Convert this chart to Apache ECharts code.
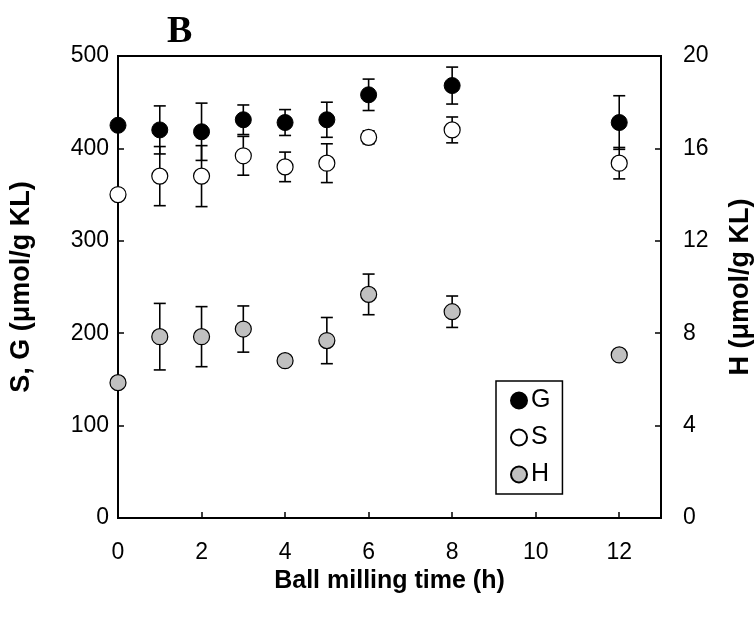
<!DOCTYPE html>
<html>
<head>
<meta charset="utf-8">
<script src="https://cdn.jsdelivr.net/npm/echarts@6/dist/echarts.min.js"></script>
<style>
  html, body { margin: 0; padding: 0; background: #fff; overflow: hidden; }
  #chart { width: 755px; height: 618px; }
</style>
</head>
<body>
<div id="chart"></div>
<script>
// Ball milling time (h)
const hours = [0, 1, 2, 3, 4, 5, 6, 8, 12];

// G and S units, µmol/g KL (left axis)
const gValues = [425, 420, 418, 431, 428, 431, 458, 468, 428];
const gErrors = [0, 26, 31, 16, 14, 19, 17, 20, 29];
const sValues = [350, 370, 370, 392, 380, 384, 412, 420, 384];
const sErrors = [0, 32, 33, 21, 16, 21, 7, 14, 17];

// H units, µmol/g KL (right axis)
const hValues = [5.86, 7.85, 7.85, 8.18, 6.81, 7.68, 9.68, 8.93, 7.06];
const hErrors = [0, 1.44, 1.3, 1.0, 0, 1.0, 0.88, 0.68, 0];

const xTicks = [0, 2, 4, 6, 8, 10, 12];

const FONT = 'Liberation Sans, Arial, sans-serif';

function points(values) {
  return hours.map((h, i) => [h, values[i]]);
}
function errorData(values, errors) {
  return hours.map((h, i) => [h, values[i], errors[i]]);
}

// vertical error bar with caps, drawn through the axis scales
function renderError(params, api) {
  const err = api.value(2);
  if (!err) return null;
  const x = api.value(0), y = api.value(1);
  const hi = api.coord([x, y + err]);
  const lo = api.coord([x, y - err]);
  const half = 6;
  const style = { stroke: '#000', lineWidth: 1.6 };
  return {
    type: 'group',
    children: [
      { type: 'line', shape: { x1: hi[0], y1: hi[1], x2: lo[0], y2: lo[1] }, style },
      { type: 'line', shape: { x1: hi[0] - half, y1: hi[1], x2: hi[0] + half, y2: hi[1] }, style },
      { type: 'line', shape: { x1: lo[0] - half, y1: lo[1], x2: lo[0] + half, y2: lo[1] }, style }
    ]
  };
}

const axisLineStyle = { show: true, lineStyle: { color: '#000', width: 2 } };
const tickStyle = { show: true, inside: true, length: 6, lineStyle: { color: '#000', width: 1.5 } };
const labelFont = { color: '#000', fontFamily: FONT, fontSize: 23 };
const xNameFont = { color: '#000', fontFamily: FONT, fontSize: 25, fontWeight: 'bold' };
const yNameFont = { color: '#000', fontFamily: FONT, fontSize: 27, fontWeight: 'bold' };

const chart = echarts.init(document.getElementById('chart'), null, { renderer: 'canvas', width: 755, height: 618 });

chart.setOption({
  animation: false,
  backgroundColor: '#fff',
  title: {
    text: 'B',
    left: 162,
    top: 8,
    textStyle: { fontFamily: 'Liberation Serif, Times New Roman, serif', fontWeight: 'bold', fontSize: 38, color: '#000' }
  },
  grid: {
    left: 118, top: 56, width: 543, height: 462,
    containLabel: false,
    outerBoundsMode: 'none',
    show: true, borderColor: '#000', borderWidth: 2, backgroundColor: 'transparent'
  },
  legend: {
    data: ['G', 'S', 'H'],
    orient: 'vertical',
    left: 496,
    top: 381,
    padding: [7, 12, 7, 14],
    itemGap: 12,
    itemWidth: 16,
    itemHeight: 16,
    icon: 'circle',
    borderColor: '#000',
    borderWidth: 1.5,
    backgroundColor: '#fff',
    textStyle: { color: '#000', fontFamily: FONT, fontSize: 25, padding: [0, 0, 0, -1] }
  },
  xAxis: {
    type: 'value',
    min: 0,
    max: 13,
    interval: 2,
    name: 'Ball milling time (h)',
    nameLocation: 'middle',
    nameGap: 49,
    nameTextStyle: xNameFont,
    axisLine: axisLineStyle,
    axisTick: tickStyle,
    splitLine: { show: false },
    axisLabel: Object.assign({
      margin: 23,
      formatter: v => (xTicks.includes(v) ? String(v) : '')
    }, labelFont)
  },
  yAxis: [
    {
      type: 'value',
      min: 0,
      max: 500,
      interval: 100,
      position: 'left',
      name: 'S, G (μmol/g KL)',
      nameLocation: 'middle',
      nameRotate: 90,
      nameGap: 83,
      nameTextStyle: yNameFont,
      axisLine: axisLineStyle,
      axisTick: tickStyle,
      splitLine: { show: false },
      axisLabel: Object.assign({ margin: 9 }, labelFont)
    },
    {
      type: 'value',
      min: 0,
      max: 20,
      interval: 4,
      position: 'right',
      name: 'H (μmol/g KL)',
      nameLocation: 'middle',
      nameRotate: 90,
      nameGap: 66,
      nameTextStyle: yNameFont,
      axisLine: axisLineStyle,
      axisTick: tickStyle,
      splitLine: { show: false },
      axisLabel: Object.assign({ margin: 22 }, labelFont)
    }
  ],
  series: [
    {
      name: 'G-err', type: 'custom', yAxisIndex: 0, z: 1,
      renderItem: renderError, data: errorData(gValues, gErrors)
    },
    {
      name: 'S-err', type: 'custom', yAxisIndex: 0, z: 1,
      renderItem: renderError, data: errorData(sValues, sErrors)
    },
    {
      name: 'H-err', type: 'custom', yAxisIndex: 1, z: 1,
      renderItem: renderError, data: errorData(hValues, hErrors)
    },
    {
      name: 'G', type: 'scatter', yAxisIndex: 0, z: 3,
      symbol: 'circle', symbolSize: 16,
      itemStyle: { color: '#000', borderColor: '#000', borderWidth: 1, opacity: 1 },
      data: points(gValues)
    },
    {
      name: 'S', type: 'scatter', yAxisIndex: 0, z: 3,
      symbol: 'circle', symbolSize: 16,
      itemStyle: { color: '#fff', borderColor: '#000', borderWidth: 1.2, opacity: 1 },
      data: points(sValues)
    },
    {
      name: 'H', type: 'scatter', yAxisIndex: 1, z: 3,
      symbol: 'circle', symbolSize: 16,
      itemStyle: { color: '#c0c0c0', borderColor: '#000', borderWidth: 1.2, opacity: 1 },
      data: points(hValues)
    }
  ]
});
</script>
</body>
</html>
